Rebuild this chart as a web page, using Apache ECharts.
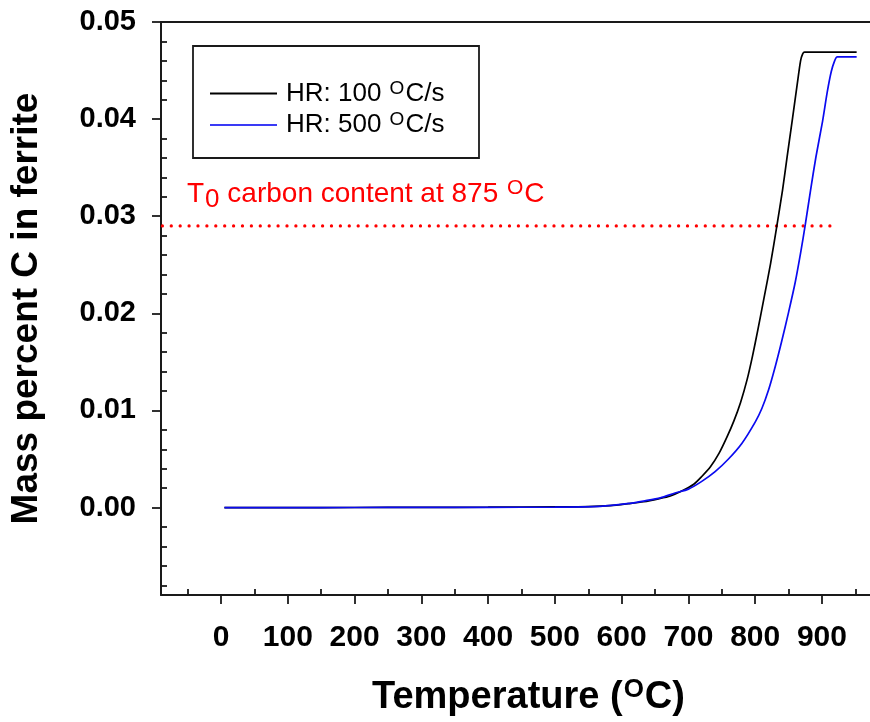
<!DOCTYPE html>
<html>
<head>
<meta charset="utf-8">
<script src="https://cdn.jsdelivr.net/npm/echarts@6/dist/echarts.min.js"></script>
<style>
html,body{margin:0;padding:0;background:#fff;}
#chart{width:870px;height:722px;}
</style>
</head>
<body>
<div id="chart"></div>
<script>
// ---- data ----
const temps100 = [5, 100, 200, 300, 400, 500, 550, 583, 610, 633, 655, 673, 690, 708, 720, 733, 746, 758, 768, 778, 788, 796, 804, 813, 823, 832, 841, 848, 856, 863, 868, 871, 874, 952];
const mass100  = [0, 0, 0.00001, 0.00002, 0.00004, 0.00007, 0.0001, 0.0002, 0.0004, 0.0006, 0.0009, 0.0012, 0.0017, 0.0024, 0.0032, 0.0042, 0.0056, 0.0073, 0.0089, 0.0108, 0.0132, 0.0156, 0.0183, 0.0215, 0.0251, 0.0288, 0.0327, 0.0362, 0.0401, 0.0436, 0.046, 0.0467, 0.0469, 0.0469];

const temps500 = [5, 100, 200, 300, 400, 500, 568, 608, 635, 658, 680, 700, 720, 740, 760, 780, 800, 810, 820, 830, 840, 850, 860, 868, 875, 883, 891, 901, 908, 914, 919, 923, 952];
const mass500  = [0, 0, 0.00001, 0.00002, 0.00003, 0.00005, 0.00013, 0.0004, 0.0007, 0.001, 0.0015, 0.0019, 0.0027, 0.0037, 0.005, 0.0066, 0.0088, 0.0102, 0.0121, 0.0145, 0.0172, 0.0201, 0.0232, 0.0262, 0.0291, 0.0327, 0.0361, 0.0398, 0.0428, 0.0449, 0.046, 0.0464, 0.0464];

const t0Level = 0.029;
const t0Temps = [-88, 925];

const seriesNames = ['HR: 100 {sup|O}C/s', 'HR: 500 {sup|O}C/s'];

const xMajorTicks = [0, 100, 200, 300, 400, 500, 600, 700, 800, 900];
const xMinorTicks = [-50, 50, 150, 250, 350, 450, 550, 650, 750, 850, 950];
const yMajorTicks = [0, 0.01, 0.02, 0.03, 0.04, 0.05];
const yMinorTicks = [-0.008, -0.006, -0.004, -0.002, 0.002, 0.004, 0.006, 0.008, 0.012, 0.014, 0.016, 0.018, 0.022, 0.024, 0.026, 0.028, 0.032, 0.034, 0.036, 0.038, 0.042, 0.044, 0.046, 0.048];

const X_MIN = -90, X_MAX = 972, Y_MIN = -0.009, Y_MAX = 0.05;

// ---- chart ----
const FONT = "'Liberation Sans', Arial, sans-serif";
const AX = '#1a1a1a';
const zip = (a, b) => a.map((v, i) => [v, b[i]]);

const chart = echarts.init(document.getElementById('chart'), null, {renderer: 'canvas'});

const xBase = {type: 'value', min: X_MIN, max: X_MAX, splitLine: {show: false}, gridIndex: 0};
const yBase = {type: 'value', min: Y_MIN, max: Y_MAX, splitLine: {show: false}, gridIndex: 0};

chart.setOption({
  animation: false,
  backgroundColor: '#fff',
  grid: {left: 161, top: 22, right: 0, bottom: 126, containLabel: false},
  xAxis: [
    Object.assign({}, xBase, {
      position: 'bottom',
      axisLine: {show: true, onZero: false, lineStyle: {color: AX, width: 2}},
      axisTick: {show: true, inside: false, length: 9, lineStyle: {color: AX, width: 1.8}, customValues: xMajorTicks},
      axisLabel: {show: true, margin: 28, customValues: xMajorTicks, fontFamily: FONT, fontSize: 30, fontWeight: 'bold', color: '#000'},
      name: 'Temperature ({sup|O}C)',
      nameLocation: 'middle',
      nameGap: 82,
      nameTextStyle: {fontFamily: FONT, fontSize: 38, fontWeight: 'bold', color: '#000', padding: [0, 0, 0, 26],
        rich: {sup: {fontFamily: FONT, fontSize: 26, fontWeight: 'bold', color: '#000', padding: [0, 1, 16, 1]}}}
    }),
    Object.assign({}, xBase, {
      position: 'bottom',
      axisLine: {show: false, onZero: false},
      axisTick: {show: true, inside: true, length: 6, lineStyle: {color: AX, width: 1.8}, customValues: xMinorTicks},
      axisLabel: {show: false}
    }),
    Object.assign({}, xBase, {
      position: 'top',
      axisLine: {show: true, onZero: false, lineStyle: {color: AX, width: 2}},
      axisTick: {show: false},
      axisLabel: {show: false}
    })
  ],
  yAxis: [
    Object.assign({}, yBase, {
      position: 'left',
      axisLine: {show: true, onZero: false, lineStyle: {color: AX, width: 2}},
      axisTick: {show: true, inside: false, length: 9, lineStyle: {color: AX, width: 1.8}, customValues: yMajorTicks},
      axisLabel: {show: true, margin: 25, customValues: yMajorTicks, formatter: v => v.toFixed(2),
        fontFamily: FONT, fontSize: 29, fontWeight: 'bold', color: '#000'},
      name: 'Mass percent C in ferrite',
      nameLocation: 'middle',
      nameGap: 116,
      nameRotate: 90,
      nameTextStyle: {fontFamily: FONT, fontSize: 37, fontWeight: 'bold', color: '#000'}
    }),
    Object.assign({}, yBase, {
      position: 'left',
      axisLine: {show: false, onZero: false},
      axisTick: {show: true, inside: true, length: 6, lineStyle: {color: AX, width: 1.8}, customValues: yMinorTicks},
      axisLabel: {show: false}
    })
  ],
  legend: {
    orient: 'vertical',
    left: 210,
    top: 79,
    padding: 0,
    itemGap: 2.5,
    icon: 'rect',
    itemWidth: 67,
    itemHeight: 2,
    data: [seriesNames[0], seriesNames[1]],
    textStyle: {fontFamily: FONT, fontSize: 26, color: '#000', lineHeight: 26, padding: [0, 0, 0, 4],
      rich: {sup: {fontFamily: FONT, fontSize: 19, color: '#000', lineHeight: 26, padding: [0, 1, 10, 1]}}}
  },
  graphic: [
    {type: 'rect', shape: {x: 193, y: 46, width: 286, height: 112}, style: {fill: 'none', stroke: AX, lineWidth: 1.8}, z: 10},
    {type: 'text', x: 187, y: 194, z: 10,
      style: {
        text: '{n|T}{sub|0}{n| carbon content at 875 }{sup|O}{n|C}',
        align: 'left', verticalAlign: 'middle',
        rich: {
          n: {fontFamily: FONT, fontSize: 28, fill: '#ff0000'},
          sub: {fontFamily: FONT, fontSize: 26, fill: '#ff0000', padding: [12, 0, 0, 1]},
          sup: {fontFamily: FONT, fontSize: 21, fill: '#ff0000', padding: [0, 1, 11, 1]}
        }
      }
    }
  ],
  series: [
    {
      name: seriesNames[0], type: 'line', xAxisIndex: 0, yAxisIndex: 0,
      data: zip(temps100, mass100), showSymbol: false, symbol: 'none', smooth: 0.25,
      lineStyle: {color: '#000000', width: 1.7}, itemStyle: {color: '#000000'}, z: 3
    },
    {
      name: seriesNames[1], type: 'line', xAxisIndex: 0, yAxisIndex: 0,
      data: zip(temps500, mass500), showSymbol: false, symbol: 'none', smooth: 0.25,
      lineStyle: {color: '#0a0af0', width: 1.7}, itemStyle: {color: '#3a3af5'}, z: 4
    },
    {
      name: 'T0 line', type: 'line', xAxisIndex: 0, yAxisIndex: 0,
      data: t0Temps.map(t => [t, t0Level]), showSymbol: false, symbol: 'none',
      lineStyle: {color: '#ff0000', width: 3.2, type: [0.1, 8.8], cap: 'round'}, z: 2
    }
  ]
});
</script>
</body>
</html>
